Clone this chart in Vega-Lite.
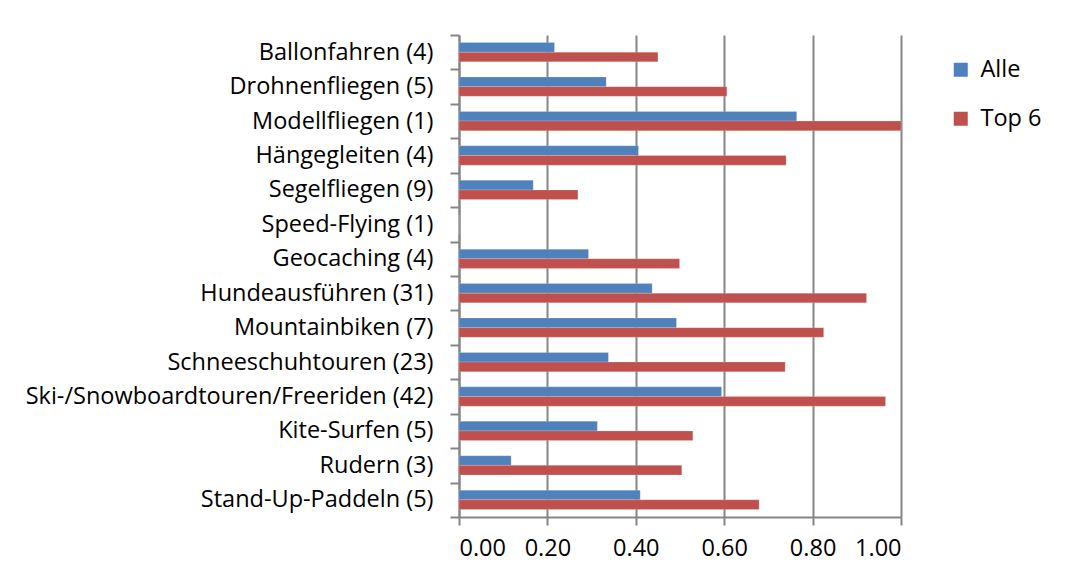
{
  "$schema": "https://vega.github.io/schema/vega-lite/v6.json",
  "width": 442,
  "height": 482,
  "autosize": {"type": "none"},
  "padding": {"left": 459, "top": 35, "right": 164, "bottom": 64},
  "background": "#ffffff",
  "config": {
    "font": "Open Sans",
    "view": {"stroke": null},
    "axis": {"labelFont": "Open Sans", "labelFontSize": 23.5, "labelColor": "#000000", "domainColor": "#868686", "tickColor": "#868686", "gridColor": "#868686", "domainWidth": 2, "tickWidth": 2, "gridWidth": 2}
  },
  "data": {
    "values": [
      {"Sportart": "Ballonfahren (4)", "Gruppe": "Alle", "Wert": 0.216},
      {"Sportart": "Ballonfahren (4)", "Gruppe": "Top 6", "Wert": 0.450},
      {"Sportart": "Drohnenfliegen (5)", "Gruppe": "Alle", "Wert": 0.333},
      {"Sportart": "Drohnenfliegen (5)", "Gruppe": "Top 6", "Wert": 0.606},
      {"Sportart": "Modellfliegen (1)", "Gruppe": "Alle", "Wert": 0.764},
      {"Sportart": "Modellfliegen (1)", "Gruppe": "Top 6", "Wert": 1.0},
      {"Sportart": "Hängegleiten (4)", "Gruppe": "Alle", "Wert": 0.406},
      {"Sportart": "Hängegleiten (4)", "Gruppe": "Top 6", "Wert": 0.740},
      {"Sportart": "Segelfliegen (9)", "Gruppe": "Alle", "Wert": 0.168},
      {"Sportart": "Segelfliegen (9)", "Gruppe": "Top 6", "Wert": 0.269},
      {"Sportart": "Speed-Flying (1)", "Gruppe": "Alle", "Wert": 0},
      {"Sportart": "Speed-Flying (1)", "Gruppe": "Top 6", "Wert": 0},
      {"Sportart": "Geocaching (4)", "Gruppe": "Alle", "Wert": 0.293},
      {"Sportart": "Geocaching (4)", "Gruppe": "Top 6", "Wert": 0.499},
      {"Sportart": "Hundeausführen (31)", "Gruppe": "Alle", "Wert": 0.437},
      {"Sportart": "Hundeausführen (31)", "Gruppe": "Top 6", "Wert": 0.922},
      {"Sportart": "Mountainbiken (7)", "Gruppe": "Alle", "Wert": 0.492},
      {"Sportart": "Mountainbiken (7)", "Gruppe": "Top 6", "Wert": 0.825},
      {"Sportart": "Schneeschuhtouren (23)", "Gruppe": "Alle", "Wert": 0.338},
      {"Sportart": "Schneeschuhtouren (23)", "Gruppe": "Top 6", "Wert": 0.738},
      {"Sportart": "Ski-/Snowboardtouren/Freeriden (42)", "Gruppe": "Alle", "Wert": 0.594},
      {"Sportart": "Ski-/Snowboardtouren/Freeriden (42)", "Gruppe": "Top 6", "Wert": 0.965},
      {"Sportart": "Kite-Surfen (5)", "Gruppe": "Alle", "Wert": 0.313},
      {"Sportart": "Kite-Surfen (5)", "Gruppe": "Top 6", "Wert": 0.529},
      {"Sportart": "Rudern (3)", "Gruppe": "Alle", "Wert": 0.118},
      {"Sportart": "Rudern (3)", "Gruppe": "Top 6", "Wert": 0.504},
      {"Sportart": "Stand-Up-Paddeln (5)", "Gruppe": "Alle", "Wert": 0.410},
      {"Sportart": "Stand-Up-Paddeln (5)", "Gruppe": "Top 6", "Wert": 0.679}
    ]
  },
  "mark": {"type": "bar", "stroke": "#ffffff", "strokeOpacity": 0.35, "strokeWidth": 0.5},
  "encoding": {
    "y": {
      "field": "Sportart",
      "type": "nominal",
      "sort": null,
      "scale": {"paddingInner": 0, "paddingOuter": 0},
      "axis": {"title": null, "tickBand": "extent", "tickSize": 9, "labelPadding": 17, "grid": false, "labelLimit": 0}
    },
    "yOffset": {"field": "Gruppe", "type": "nominal", "scale": {"paddingInner": 0, "paddingOuter": 0.785}},
    "x": {
      "field": "Wert",
      "type": "quantitative",
      "scale": {"domain": [0, 1], "nice": false, "zero": true},
      "axis": {"title": null, "values": [0, 0.2, 0.4, 0.6, 0.8, 1.0], "format": ".2f", "grid": true, "tickSize": 8, "labelPadding": 11}
    },
    "color": {
      "field": "Gruppe",
      "type": "nominal",
      "scale": {"domain": ["Alle", "Top 6"], "range": ["#4F81BD", "#C0504D"]},
      "legend": {
        "title": null,
        "orient": "none",
        "legendX": 490,
        "legendY": 23,
        "symbolType": "square",
        "symbolSize": 196,
        "symbolStrokeWidth": 0,
        "labelFont": "Open Sans",
        "labelFontSize": 23.5,
        "labelColor": "#000000",
        "labelOffset": 8,
        "rowPadding": 24
      }
    }
  }
}
